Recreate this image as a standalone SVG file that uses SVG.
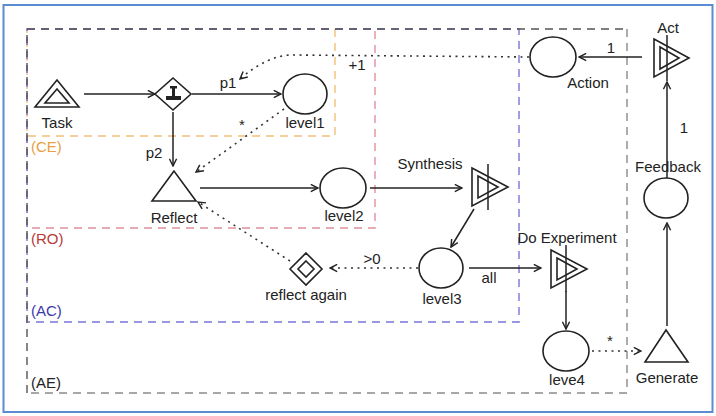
<svg xmlns="http://www.w3.org/2000/svg" width="716" height="416" viewBox="0 0 716 416">
  <style>
    text { font-family: "Liberation Sans", Arial, sans-serif; font-size: 15px; fill: #222; }
    .c { text-anchor: middle; }
    .shape { fill: #fff; stroke: #222; stroke-width: 1.6; }
    .line { fill: none; stroke: #222; stroke-width: 1.5; }
    .flow { fill: none; stroke: #222; stroke-width: 1.5; marker-end: url(#arrow); }
    .dot { fill: none; stroke: #333; stroke-width: 1.6; stroke-dasharray: 2 4.5; marker-end: url(#arrow); }
    .zone { fill: none; stroke-width: 1.4; stroke-dasharray: 8 6; }
  </style>
  <defs>
    <marker id="arrow" viewBox="0 0 10 10" refX="9" refY="5" markerWidth="9" markerHeight="9" markerUnits="userSpaceOnUse" orient="auto">
      <path d="M1,1 L9,5 L1,9" fill="none" stroke="#222" stroke-width="1.6" stroke-dasharray="none"/>
    </marker>
  </defs>

  <rect x="0" y="0" width="716" height="416" fill="#fff"/>
  <rect x="3.5" y="5" width="709" height="407" fill="none" stroke="#5b8bd0" stroke-width="2"/>

  <!-- nested zones, outermost drawn last so its shared edges stay dark -->
  <g id="zones">
    <rect class="zone" x="27" y="29" width="308" height="107" stroke="#f2c078"/>
    <rect class="zone" x="27" y="29" width="348" height="199" stroke="#e0909c"/>
    <rect class="zone" x="27" y="29" width="492" height="293" stroke="#7a74d8"/>
    <path class="zone" d="M627,29 L627,393 L27,393" stroke="#8a8a8a"/>
    <path class="zone" d="M27,393 L27,29 L627,29" stroke="#555"/>
    <text x="31" y="152" style="fill:#e8a040">(CE)</text>
    <text x="31" y="244" style="fill:#b83a3a">(RO)</text>
    <text x="31" y="316" style="fill:#3a3aa8">(AC)</text>
    <text x="31" y="388">(AE)</text>
  </g>

  <!-- connectors -->
  <g id="connectors">
    <line class="flow" x1="84" y1="94" x2="155" y2="94"/>
    <line class="flow" x1="192" y1="94" x2="281" y2="94"/>
    <text x="228" y="88" class="c">p1</text>
    <line class="flow" x1="173" y1="112" x2="173" y2="166"/>
    <text x="154" y="158" class="c">p2</text>
    <path class="dot" d="M284,109 L196,172"/>
    <text x="242" y="130" class="c">*</text>
    <path class="dot" d="M529,57 L292,55 Q268,55 240,79"/>
    <text x="357" y="70" class="c">+1</text>
    <line class="flow" x1="200" y1="188" x2="318" y2="188"/>
    <line class="flow" x1="370" y1="188" x2="462" y2="188"/>
    <text x="430" y="169" class="c">Synthesis</text>
    <line class="flow" x1="474" y1="209" x2="451" y2="247"/>
    <line class="flow" x1="469" y1="268" x2="541" y2="268"/>
    <text x="489" y="283" class="c">all</text>
    <path class="dot" d="M418,268 L330,268"/>
    <text x="372" y="264" class="c">&gt;0</text>
    <path class="dot" d="M290,261 L198,202"/>
    <line class="flow" x1="566" y1="291" x2="566" y2="329"/>
    <path class="dot" d="M592,351 L641,351"/>
    <text x="610" y="346" class="c">*</text>
    <line class="flow" x1="667" y1="326" x2="667" y2="223"/>
    <line class="flow" x1="667" y1="178" x2="667" y2="82"/>
    <text x="684" y="133" class="c">1</text>
    <line class="flow" x1="642" y1="57" x2="579" y2="57"/>
    <text x="611" y="53" class="c">1</text>
  </g>

  <g id="task">
    <polygon class="shape" points="57,80 35,107 79,107"/>
    <polygon class="shape" points="57,89 45,103 69,103"/>
    <text x="57" y="128" class="c">Task</text>
  </g>

  <g id="gateway">
    <polygon class="shape" points="173,78 191,94 173,110 155,94"/>
    <rect x="170" y="86" width="7" height="2.5" fill="#222"/>
    <rect x="172" y="87" width="3" height="10" fill="#222"/>
    <rect x="166" y="96" width="15" height="4" fill="#222"/>
  </g>

  <g id="level1">
    <ellipse class="shape" cx="305" cy="94" rx="22" ry="20"/>
    <text x="305" y="128" class="c">level1</text>
  </g>

  <g id="reflect">
    <polygon class="shape" points="174,171 152,201 196,201"/>
    <text x="174" y="223" class="c">Reflect</text>
  </g>

  <g id="level2">
    <ellipse class="shape" cx="343" cy="188" rx="23" ry="20"/>
    <text x="344" y="221" class="c">level2</text>
  </g>

  <g id="synthesis">
    <polygon class="shape" points="472,168 508,187 472,206"/>
    <polygon class="shape" points="478,176 498,187 478,198"/>
    <line class="line" x1="488" y1="164" x2="488" y2="210"/>
  </g>

  <g id="level3">
    <ellipse class="shape" cx="441" cy="268" rx="22" ry="20"/>
    <text x="442" y="304" class="c">level3</text>
  </g>

  <g id="reflect-again">
    <polygon class="shape" points="306,253 322,269 306,285 290,269"/>
    <polygon class="shape" points="306,261 314,269 306,277 298,269"/>
    <text x="306" y="300" class="c">reflect again</text>
  </g>

  <g id="do-experiment">
    <text x="567" y="243" class="c">Do Experiment</text>
    <polygon class="shape" points="551,250 587,269 551,288"/>
    <polygon class="shape" points="557,258 577,269 557,280"/>
    <line class="line" x1="566" y1="245" x2="566" y2="292"/>
  </g>

  <g id="leve4">
    <ellipse class="shape" cx="566" cy="351" rx="23" ry="20"/>
    <text x="567" y="385" class="c">leve4</text>
  </g>

  <g id="generate">
    <polygon class="shape" points="666,330 645,362 688,362"/>
    <text x="667" y="383" class="c">Generate</text>
  </g>

  <g id="feedback">
    <ellipse class="shape" cx="666" cy="198" rx="22" ry="20"/>
    <text x="668" y="172" class="c">Feedback</text>
  </g>

  <g id="act">
    <text x="668" y="33" class="c">Act</text>
    <polygon class="shape" points="654,39 689,58 654,77"/>
    <polygon class="shape" points="660,47 679,58 660,69"/>
    <line class="line" x1="667" y1="35" x2="667" y2="81"/>
  </g>

  <g id="action">
    <ellipse class="shape" cx="553" cy="57" rx="23" ry="20"/>
    <text x="588" y="88" class="c">Action</text>
  </g>
</svg>
